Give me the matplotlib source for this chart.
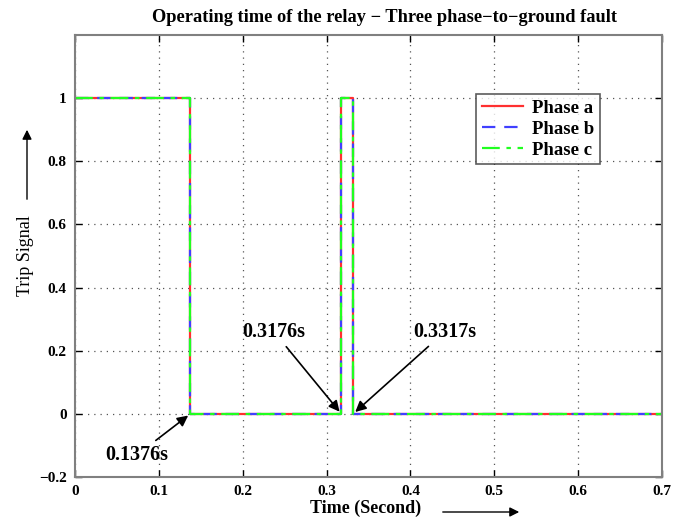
import matplotlib
matplotlib.use("Agg")
import matplotlib.pyplot as plt

# Trip signal switching instants (s) and levels
time_s = [0.0, 0.1376, 0.3176, 0.3317, 0.7]
trip = [1, 0, 1, 0, 0]

phases = ["Phase a", "Phase b", "Phase c"]
colors = ["#ff3030", "#4040ff", "#20ff20"]
styles = ["-", (0, (6, 4)), (0, (8, 3, 2, 3))]

xticks = [0, 0.1, 0.2, 0.3, 0.4, 0.5, 0.6, 0.7]
yticks = [-0.2, 0, 0.2, 0.4, 0.6, 0.8, 1]

plt.rcParams["font.family"] = ["Liberation Serif", "DejaVu Serif"]

fig = plt.figure(figsize=(6.88, 5.17), dpi=100)
ax = fig.add_axes([75 / 688, 40 / 517, 587 / 688, 442 / 517])

for name, c, ls in zip(phases, colors, styles):
    ax.plot(time_s, trip, drawstyle="steps-post", color=c, linestyle=ls,
            linewidth=1.6, label=name)

ax.set_xlim(0, 0.7)
ax.set_ylim(-0.2, 1.2)
ax.set_xticks(xticks)
ax.set_yticks(yticks)
ax.set_xticklabels([f"{t:g}" for t in xticks], fontsize=11, fontweight="bold")
ax.set_yticklabels([f"{t:g}".replace("-", "\u2212") for t in yticks],
                   fontsize=11, fontweight="bold")
ax.tick_params(direction="in", length=5, width=1, top=True, right=True, pad=6)
ax.grid(True, linestyle=(0, (1, 4)), color="#555555", linewidth=0.9)
for sp in ax.spines.values():
    sp.set_color("#808080")
    sp.set_linewidth(1.5)

leg = ax.legend(loc="upper right",
                bbox_to_anchor=((600 - 75) / 587, 1 - (94 - 35) / 442),
                bbox_transform=ax.transAxes, fontsize=13.5, frameon=True, fancybox=False,
                handlelength=2.2, handletextpad=0.5, borderpad=0.3, labelspacing=0.2,
                borderaxespad=0)
leg.get_frame().set_edgecolor("#333333")
leg.get_frame().set_linewidth(1.2)
for t in leg.get_texts():
    t.set_fontweight("bold")

fig.text(384 / 688, 1 - 17 / 517, "Operating time of the relay \u2212 Three phase\u2212to\u2212ground fault",
         ha="center", va="center", fontsize=13.2, fontweight="bold")

arrow = dict(arrowstyle="-|>", color="black", lw=1.2, mutation_scale=16)
ax.annotate("0.1376s", xy=(time_s[1], 0), xytext=(0.0739, -0.13),
            ha="center", va="center", fontsize=14.5, fontweight="bold", arrowprops=arrow)
ax.annotate("0.3176s", xy=(time_s[2], 0), xytext=(0.2373, 0.26),
            ha="center", va="center", fontsize=14.5, fontweight="bold", arrowprops=arrow)
ax.annotate("0.3317s", xy=(time_s[3], 0), xytext=(0.441, 0.26),
            ha="center", va="center", fontsize=14.5, fontweight="bold", arrowprops=arrow)

# axis captions with direction arrows
fig.text(25 / 688, 1 - 256 / 517, "Trip Signal", rotation=90, ha="center", va="center",
         fontsize=13)
fig.patches.append(matplotlib.patches.FancyArrowPatch(
    (27 / 688, 1 - 202 / 517), (27 / 688, 1 - 127 / 517), transform=fig.transFigure,
    arrowstyle="-|>", mutation_scale=14, color="black", lw=1))
fig.text(366 / 688, 1 - 508 / 517, "Time (Second)", ha="center", va="center",
         fontsize=13, fontweight="bold")
fig.patches.append(matplotlib.patches.FancyArrowPatch(
    (440 / 688, 1 - 512 / 517), (522 / 688, 1 - 512 / 517), transform=fig.transFigure,
    arrowstyle="-|>", mutation_scale=14, color="black", lw=1))

fig.savefig("out.png", dpi=100)
